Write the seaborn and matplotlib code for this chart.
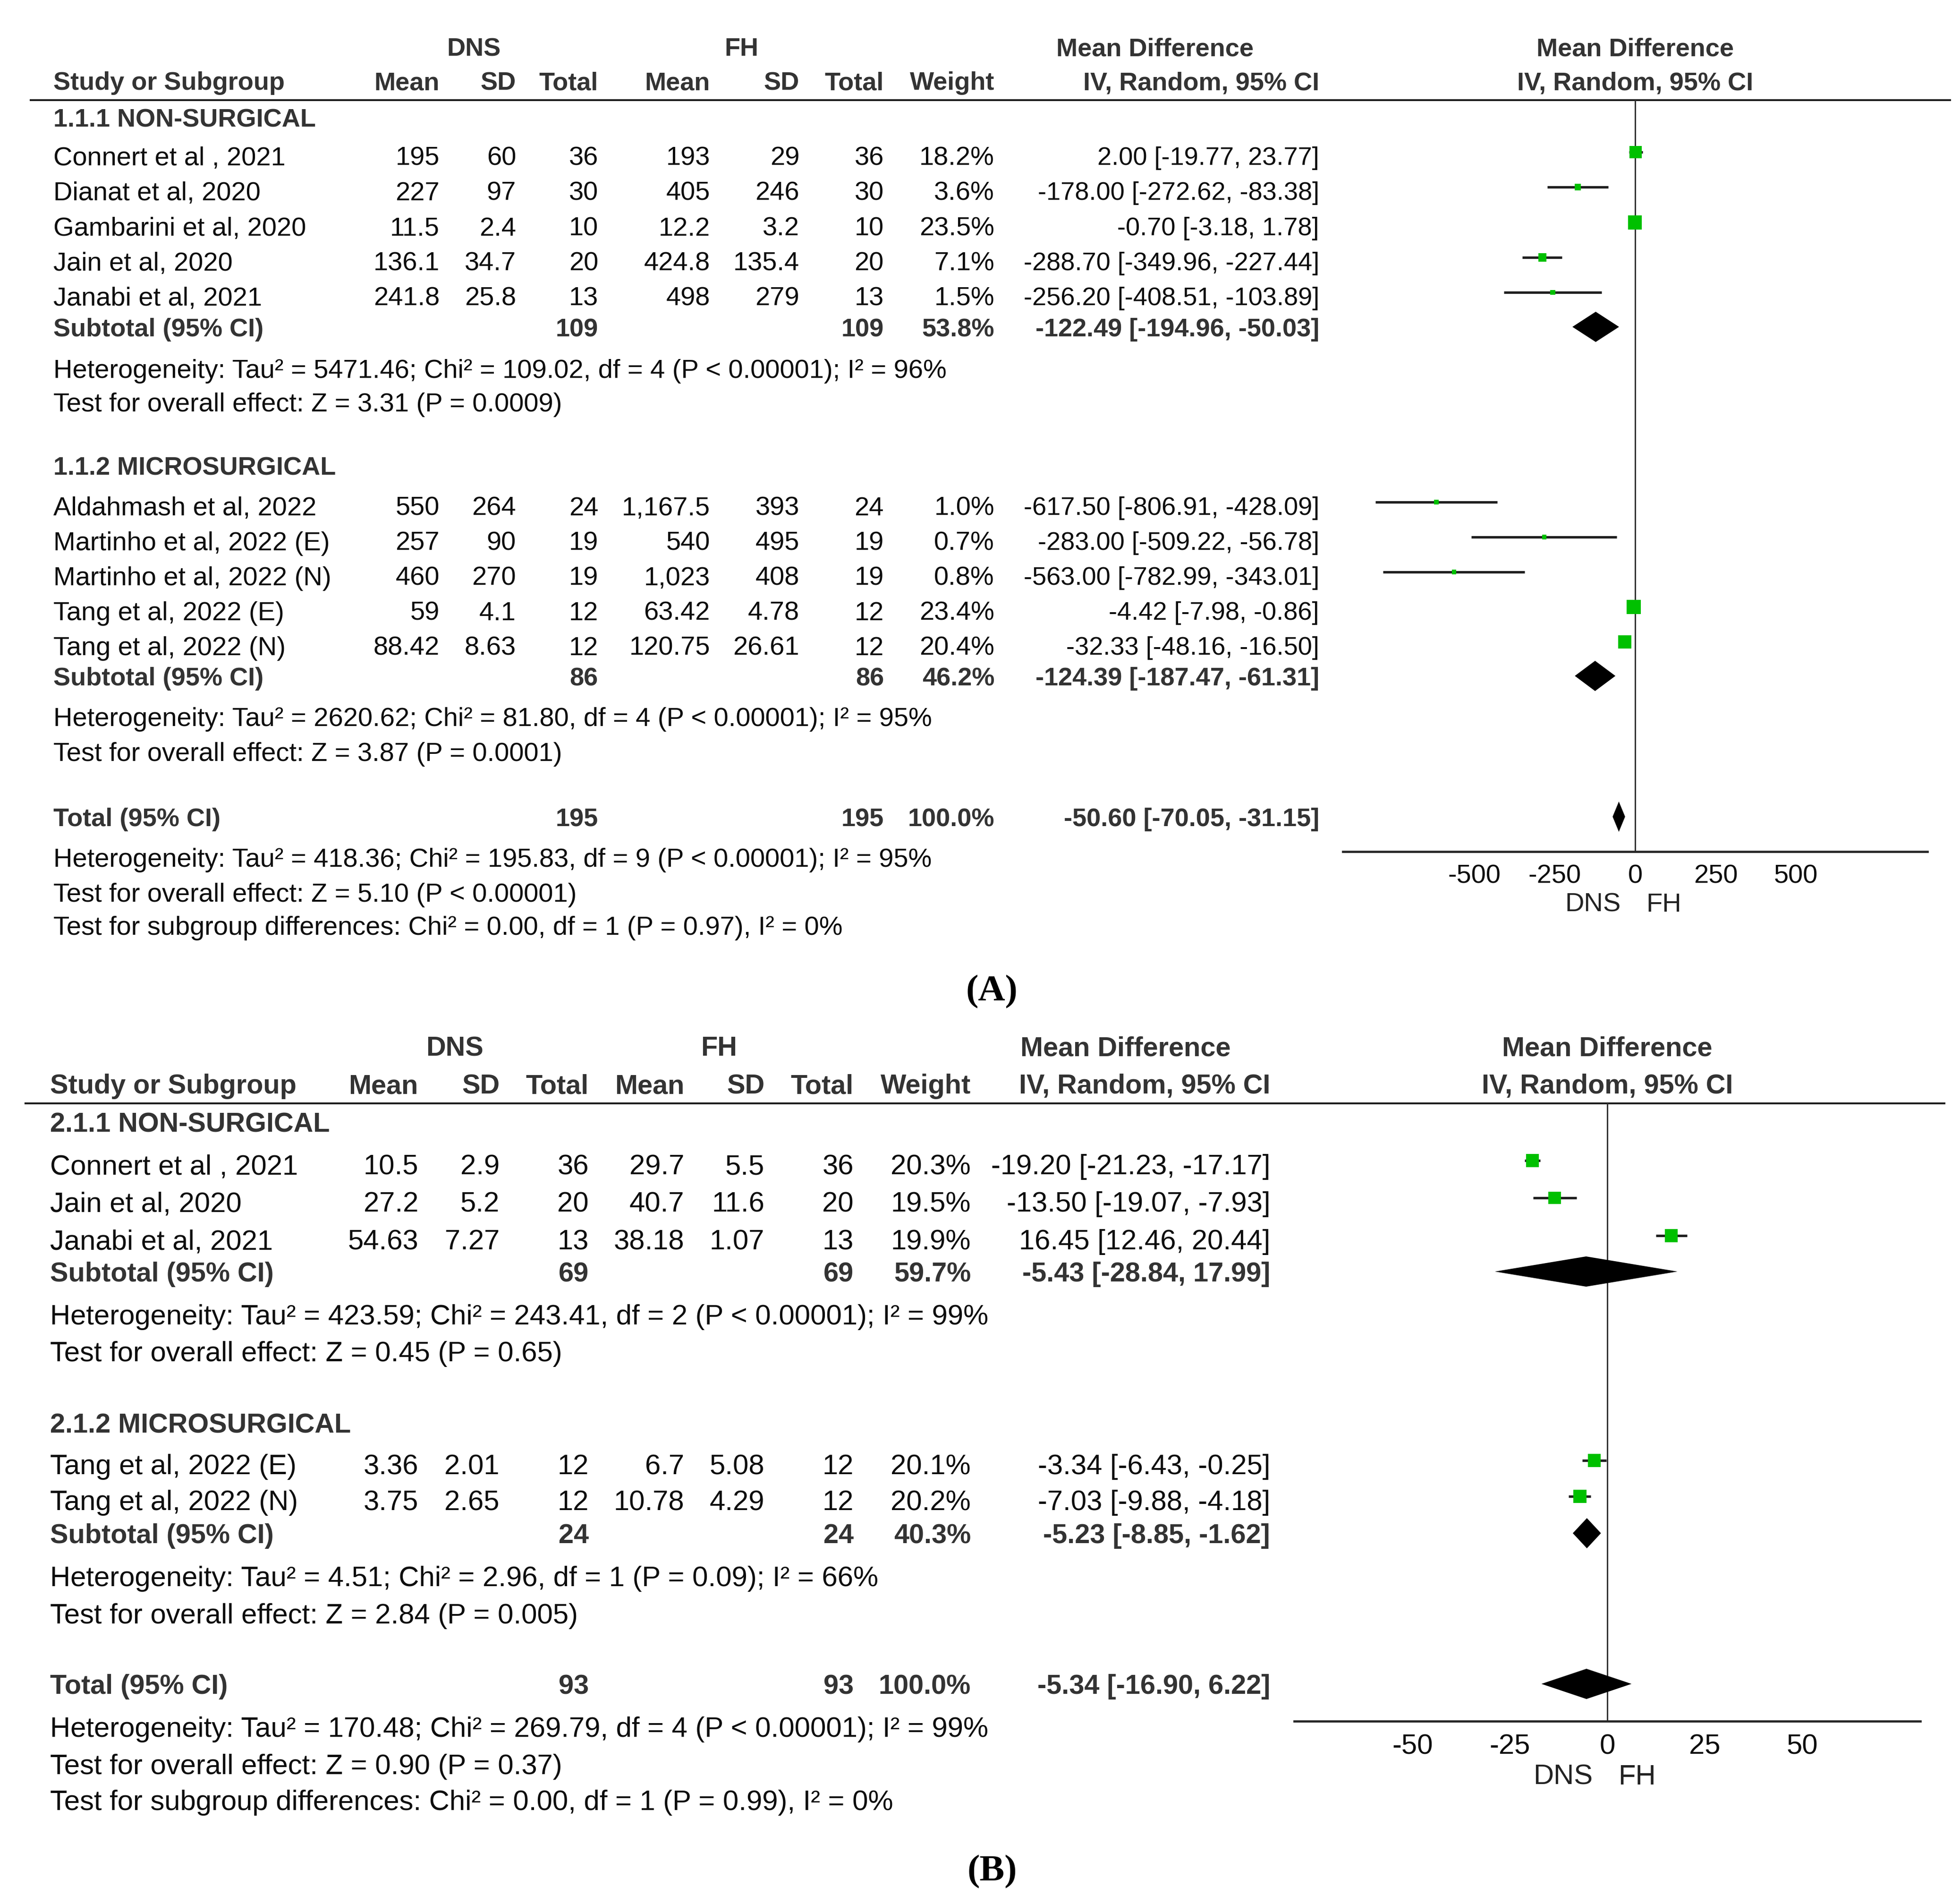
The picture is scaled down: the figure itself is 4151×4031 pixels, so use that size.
import numpy as np
import pandas as pd
import matplotlib
matplotlib.use("Agg")
import matplotlib.pyplot as plt
import seaborn as sns

# ---------------------------------------------------
# DATA - panel A
# ---------------------------------------------------

a1_study = ["Connert et al , 2021", "Dianat et al, 2020", "Gambarini et al, 2020",
            "Jain et al, 2020", "Janabi et al, 2021"]
a1_dns_mean = ["195", "227", "11.5", "136.1", "241.8"]
a1_dns_sd = ["60", "97", "2.4", "34.7", "25.8"]
a1_dns_n = [36, 30, 10, 20, 13]
a1_fh_mean = ["193", "405", "12.2", "424.8", "498"]
a1_fh_sd = ["29", "246", "3.2", "135.4", "279"]
a1_fh_n = [36, 30, 10, 20, 13]
a1_weight = [18.2, 3.6, 23.5, 7.1, 1.5]
a1_md = [2.00, -178.00, -0.70, -288.70, -256.20]
a1_lo = [-19.77, -272.62, -3.18, -349.96, -408.51]
a1_hi = [23.77, -83.38, 1.78, -227.44, -103.89]
a1_sub = [109, 109, 53.8, -122.49, -194.96, -50.03]
a1_het = "Heterogeneity: Tau² = 5471.46; Chi² = 109.02, df = 4 (P < 0.00001); I² = 96%"
a1_test = "Test for overall effect: Z = 3.31 (P = 0.0009)"

a2_study = ["Aldahmash et al, 2022", "Martinho et al, 2022 (E)", "Martinho et al, 2022 (N)",
            "Tang et al, 2022 (E)", "Tang et al, 2022 (N)"]
a2_dns_mean = ["550", "257", "460", "59", "88.42"]
a2_dns_sd = ["264", "90", "270", "4.1", "8.63"]
a2_dns_n = [24, 19, 19, 12, 12]
a2_fh_mean = ["1,167.5", "540", "1,023", "63.42", "120.75"]
a2_fh_sd = ["393", "495", "408", "4.78", "26.61"]
a2_fh_n = [24, 19, 19, 12, 12]
a2_weight = [1.0, 0.7, 0.8, 23.4, 20.4]
a2_md = [-617.50, -283.00, -563.00, -4.42, -32.33]
a2_lo = [-806.91, -509.22, -782.99, -7.98, -48.16]
a2_hi = [-428.09, -56.78, -343.01, -0.86, -16.50]
a2_sub = [86, 86, 46.2, -124.39, -187.47, -61.31]
a2_het = "Heterogeneity: Tau² = 2620.62; Chi² = 81.80, df = 4 (P < 0.00001); I² = 95%"
a2_test = "Test for overall effect: Z = 3.87 (P = 0.0001)"

a_total = [195, 195, 100.0, -50.60, -70.05, -31.15]
a_total_notes = ["Heterogeneity: Tau² = 418.36; Chi² = 195.83, df = 9 (P < 0.00001); I² = 95%",
                 "Test for overall effect: Z = 5.10 (P < 0.00001)",
                 "Test for subgroup differences: Chi² = 0.00, df = 1 (P = 0.97), I² = 0%"]

# ---------------------------------------------------
# DATA - panel B
# ---------------------------------------------------

b1_study = ["Connert et al , 2021", "Jain et al, 2020", "Janabi et al, 2021"]
b1_dns_mean = ["10.5", "27.2", "54.63"]
b1_dns_sd = ["2.9", "5.2", "7.27"]
b1_dns_n = [36, 20, 13]
b1_fh_mean = ["29.7", "40.7", "38.18"]
b1_fh_sd = ["5.5", "11.6", "1.07"]
b1_fh_n = [36, 20, 13]
b1_weight = [20.3, 19.5, 19.9]
b1_md = [-19.20, -13.50, 16.45]
b1_lo = [-21.23, -19.07, 12.46]
b1_hi = [-17.17, -7.93, 20.44]
b1_sub = [69, 69, 59.7, -5.43, -28.84, 17.99]
b1_het = "Heterogeneity: Tau² = 423.59; Chi² = 243.41, df = 2 (P < 0.00001); I² = 99%"
b1_test = "Test for overall effect: Z = 0.45 (P = 0.65)"

b2_study = ["Tang et al, 2022 (E)", "Tang et al, 2022 (N)"]
b2_dns_mean = ["3.36", "3.75"]
b2_dns_sd = ["2.01", "2.65"]
b2_dns_n = [12, 12]
b2_fh_mean = ["6.7", "10.78"]
b2_fh_sd = ["5.08", "4.29"]
b2_fh_n = [12, 12]
b2_weight = [20.1, 20.2]
b2_md = [-3.34, -7.03]
b2_lo = [-6.43, -9.88]
b2_hi = [-0.25, -4.18]
b2_sub = [24, 24, 40.3, -5.23, -8.85, -1.62]
b2_het = "Heterogeneity: Tau² = 4.51; Chi² = 2.96, df = 1 (P = 0.09); I² = 66%"
b2_test = "Test for overall effect: Z = 2.84 (P = 0.005)"

b_total = [93, 93, 100.0, -5.34, -16.90, 6.22]
b_total_notes = ["Heterogeneity: Tau² = 170.48; Chi² = 269.79, df = 4 (P < 0.00001); I² = 99%",
                 "Test for overall effect: Z = 0.90 (P = 0.37)",
                 "Test for subgroup differences: Chi² = 0.00, df = 1 (P = 0.99), I² = 0%"]

col_headers = ["Mean", "SD", "Total", "Mean", "SD", "Total", "Weight"]

# ---------------------------------------------------
# STYLE / LAYOUT (pixel units of the output image)
# ---------------------------------------------------

W, H = 4151, 4031
TXT = "#0d0d0d"
BOLD = "#333333"
LINE = "#1f1f1f"
GREEN = "#00c000"

layout_a = dict(
    fs=40.3, fsb=39, fs_ci=39, x_name=113, cols=[931, 1093, 1267, 1504, 1693, 1872, 2106],
    x_ci=2794, dns_x=1004, fh_x=1570, md_x=2446, zero_x=3463,
    line=(63, 4132), y_h1=101, y_h2=173, y_line=212,
    groups=[dict(head=251, rows=[332, 406, 481, 555, 629], sub=695, het=782, test=853),
            dict(head=988, rows=[1073, 1147, 1221, 1295, 1369], sub=1434, het=1519, test=1593)],
    y_total=1732, y_notes=[1817, 1891, 1961],
    forest_x=(2844, 4082), axis_y=1803, xlim=(-908, 908), ticks=[-500, -250, 0, 250, 500],
    lab_dy=-81, label="(A)", label_xy=(2100, 2100),
)

layout_b = dict(
    fs=43, fsb=41.5, fs_ci=43, x_name=106, cols=[886, 1058, 1247, 1449, 1619, 1808, 2056],
    x_ci=2690, dns_x=963, fh_x=1523, md_x=2384, zero_x=3404,
    line=(52, 4120), y_h1=2217, y_h2=2297, y_line=2336,
    groups=[dict(head=2378, rows=[2467, 2546, 2626], sub=2695, het=2785, test=2863),
            dict(head=3015, rows=[3102, 3178], sub=3249, het=3339, test=3418)],
    y_total=3568, y_notes=[3658, 3737, 3813],
    forest_x=(2741, 4067), axis_y=3644, xlim=(-80.3, 80.3), ticks=[-50, -25, 0, 25, 50],
    lab_dy=-85, label="(B)", label_xy=(2101, 3963),
)


def make_group(name, study, dm, dsd, dn, fm, fsd, fn, w, md, lo, hi, sub, het, test):
    return dict(name=name, study=study, dm=dm, dsd=dsd, dn=dn, fm=fm, fsd=fsd, fn=fn,
                w=w, md=md, lo=lo, hi=hi, sub=sub, het=het, test=test)


def ci_text(m, l, h):
    return f"{m:.2f} [{l:.2f}, {h:.2f}]"


def draw_table(bg, L, groups, total, notes):

    def put(x, y, s, ha="left", bold=False, fs=None):
        if fs is None:
            fs = L["fsb"] if bold else L["fs"]
        off = 0.32 * fs * 100 / 72
        bg.text(x, y + off, s, ha=ha, va="baseline", fontsize=fs,
                fontweight="bold" if bold else "normal", color=BOLD if bold else TXT)

    cols = L["cols"]
    put(L["dns_x"], L["y_h1"], "DNS", ha="center", bold=True)
    put(L["fh_x"], L["y_h1"], "FH", ha="center", bold=True)
    put(L["md_x"], L["y_h1"], "Mean Difference", ha="center", bold=True)
    put(L["zero_x"], L["y_h1"], "Mean Difference", ha="center", bold=True)
    put(L["x_name"], L["y_h2"], "Study or Subgroup", bold=True)
    for x, s in zip(cols, col_headers):
        put(x, L["y_h2"], s, ha="right", bold=True)
    put(L["x_ci"], L["y_h2"], "IV, Random, 95% CI", ha="right", bold=True)
    put(L["zero_x"], L["y_h2"], "IV, Random, 95% CI", ha="center", bold=True)
    bg.plot(L["line"], [L["y_line"], L["y_line"]], color="#1a1a1a", lw=2.8,
            solid_capstyle="butt")

    for g, pos in zip(groups, L["groups"]):
        put(L["x_name"], pos["head"], g["name"], bold=True)
        for i, y in enumerate(pos["rows"]):
            put(L["x_name"], y, g["study"][i])
            vals = [g["dm"][i], g["dsd"][i], str(g["dn"][i]),
                    g["fm"][i], g["fsd"][i], str(g["fn"][i]), f"{g['w'][i]:.1f}%"]
            for x, s in zip(cols, vals):
                put(x, y, s, ha="right")
            put(L["x_ci"], y, ci_text(g["md"][i], g["lo"][i], g["hi"][i]), ha="right",
                fs=L["fs_ci"])
        s = g["sub"]
        put(L["x_name"], pos["sub"], "Subtotal (95% CI)", bold=True)
        put(cols[2], pos["sub"], str(s[0]), ha="right", bold=True)
        put(cols[5], pos["sub"], str(s[1]), ha="right", bold=True)
        put(cols[6], pos["sub"], f"{s[2]:.1f}%", ha="right", bold=True)
        put(L["x_ci"], pos["sub"], ci_text(s[3], s[4], s[5]), ha="right", bold=True)
        put(L["x_name"], pos["het"], g["het"])
        put(L["x_name"], pos["test"], g["test"])

    put(L["x_name"], L["y_total"], "Total (95% CI)", bold=True)
    put(cols[2], L["y_total"], str(total[0]), ha="right", bold=True)
    put(cols[5], L["y_total"], str(total[1]), ha="right", bold=True)
    put(cols[6], L["y_total"], f"{total[2]:.1f}%", ha="right", bold=True)
    put(L["x_ci"], L["y_total"], ci_text(total[3], total[4], total[5]), ha="right", bold=True)
    for y, s in zip(L["y_notes"], notes):
        put(L["x_name"], y, s)

    bg.text(L["label_xy"][0], L["label_xy"][1], L["label"], ha="center", va="center",
            fontsize=57, fontweight="bold", family=["Liberation Serif", "DejaVu Serif"],
            color="black")


def draw_forest(fig, L, groups, total):
    x0, x1 = L["forest_x"]
    y_top, y_axis = L["y_line"], L["axis_y"]
    ax = fig.add_axes([x0 / W, 1 - y_axis / H, (x1 - x0) / W, (y_axis - y_top) / H])
    ax.set_facecolor("none")
    ax.axvline(0, color="#333333", lw=2.2, zorder=1)

    wmax = max(max(g["w"]) for g in groups)
    smin = 30
    smax = 19 * wmax
    half = 32
    for g, pos in zip(groups, L["groups"]):
        ys = np.array(pos["rows"], dtype=float) - 10
        ax.hlines(ys, g["lo"], g["hi"], color=LINE, lw=3.8, zorder=2)
        df = pd.DataFrame({"md": g["md"], "y": ys, "w": g["w"]})
        sns.scatterplot(data=df, x="md", y="y", size="w", sizes=(smin, smax),
                        size_norm=(0, wmax), marker="s", color=GREEN, linewidth=0,
                        legend=False, ax=ax, zorder=3)
        s = g["sub"]
        yd = pos["sub"] - 3
        ax.fill([s[4], s[3], s[5], s[3]], [yd, yd - half, yd, yd + half],
                color="black", lw=0, zorder=3)
    yd = L["y_total"] - 3
    ax.fill([total[4], total[3], total[5], total[3]], [yd, yd - half, yd, yd + half],
            color="black", lw=0, zorder=3)

    ax.set_xlim(*L["xlim"])
    ax.set_ylim(y_axis, y_top)
    ax.set_xticks(L["ticks"])
    ax.set_xlabel("")
    ax.set_ylabel("")
    for side in ["top", "left", "right"]:
        ax.spines[side].set_visible(False)
    ax.spines["bottom"].set_linewidth(3.4)
    ax.spines["bottom"].set_color("#262626")
    ax.tick_params(axis="x", direction="inout", length=32, width=1.5, color="#111111",
                   labelcolor=TXT, labelsize=L["fs"], pad=3)
    ax.tick_params(axis="y", left=False, labelleft=False)
    ax.grid(False)

    ax.annotate("DNS", xy=(0, 0), xycoords=("data", "axes fraction"),
                xytext=(-22, L["lab_dy"]), textcoords="offset points",
                ha="right", va="center", fontsize=L["fs"], color="#222222")
    ax.annotate("FH", xy=(0, 0), xycoords=("data", "axes fraction"),
                xytext=(17, L["lab_dy"]), textcoords="offset points",
                ha="left", va="center", fontsize=L["fs"], color="#222222")


def main():
    sns.set_theme(style="white")
    plt.rcParams["font.family"] = ["Liberation Sans", "DejaVu Sans"]
    plt.rcParams["axes.unicode_minus"] = False

    fig = plt.figure(figsize=(W / 100, H / 100), dpi=100)
    fig.patch.set_facecolor("white")
    bg = fig.add_axes([0, 0, 1, 1])
    bg.set_xlim(0, W)
    bg.set_ylim(H, 0)
    bg.axis("off")

    groups_a = [
        make_group("1.1.1 NON-SURGICAL", a1_study, a1_dns_mean, a1_dns_sd, a1_dns_n,
                   a1_fh_mean, a1_fh_sd, a1_fh_n, a1_weight, a1_md, a1_lo, a1_hi,
                   a1_sub, a1_het, a1_test),
        make_group("1.1.2 MICROSURGICAL", a2_study, a2_dns_mean, a2_dns_sd, a2_dns_n,
                   a2_fh_mean, a2_fh_sd, a2_fh_n, a2_weight, a2_md, a2_lo, a2_hi,
                   a2_sub, a2_het, a2_test),
    ]
    groups_b = [
        make_group("2.1.1 NON-SURGICAL", b1_study, b1_dns_mean, b1_dns_sd, b1_dns_n,
                   b1_fh_mean, b1_fh_sd, b1_fh_n, b1_weight, b1_md, b1_lo, b1_hi,
                   b1_sub, b1_het, b1_test),
        make_group("2.1.2 MICROSURGICAL", b2_study, b2_dns_mean, b2_dns_sd, b2_dns_n,
                   b2_fh_mean, b2_fh_sd, b2_fh_n, b2_weight, b2_md, b2_lo, b2_hi,
                   b2_sub, b2_het, b2_test),
    ]

    draw_table(bg, layout_a, groups_a, a_total, a_total_notes)
    draw_forest(fig, layout_a, groups_a, a_total)
    draw_table(bg, layout_b, groups_b, b_total, b_total_notes)
    draw_forest(fig, layout_b, groups_b, b_total)

    fig.savefig("out.png", dpi=100, facecolor="white")


if __name__ == "__main__":
    main()
